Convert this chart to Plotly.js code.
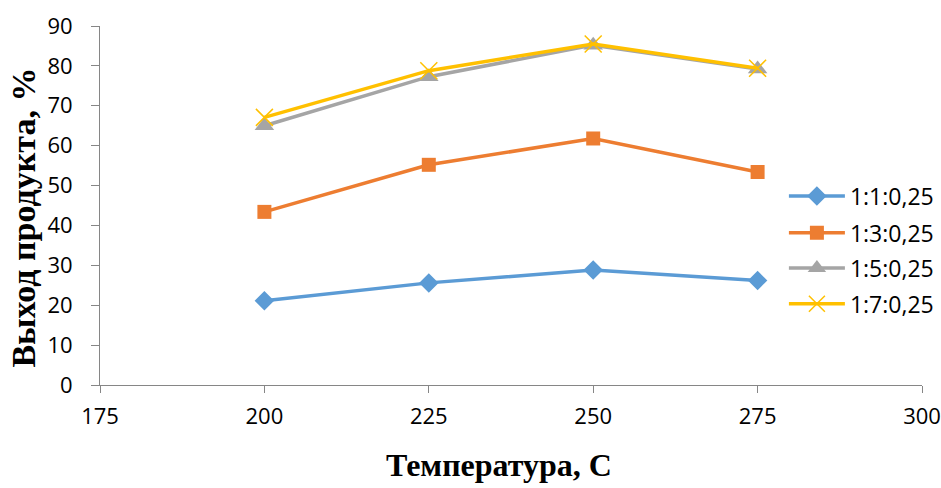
<!DOCTYPE html>
<html><head><meta charset="utf-8">
<script src="https://cdn.plot.ly/plotly-3.0.1.min.js"></script>
<style>html,body{margin:0;padding:0;background:#fff}#chart{width:941px;height:488px}</style>
</head><body><div id="chart"></div>
<script>
var temps = [200, 225, 250, 275];
var s1 = [21.1, 25.6, 28.8, 26.2];
var s2 = [43.4, 55.2, 61.8, 53.4];
var s3 = [65.0, 77.3, 85.2, 79.2];
var s4 = [67.1, 78.8, 85.5, 79.4];
var names = ['1:1:0,25', '1:3:0,25', '1:5:0,25', '1:7:0,25'];
var xTicks = [175, 200, 225, 250, 275, 300];
var yTicks = [0, 10, 20, 30, 40, 50, 60, 70, 80, 90];
var xTitle = 'Температура, С';
var yTitle = 'Выход продукта, %';

var colors = ['#5B9BD5', '#ED7D31', '#A5A5A5', '#FFC000'];
var symbols = ['diamond', 'square', 'triangle-up', 'x-thin-open'];
var sizes = [15, 14, 17, 17];
var series = [s1, s2, s3, s4];
var legendIds = ['legend', 'legend2', 'legend3', 'legend4'];
var legendY = [0.526, 0.424, 0.326, 0.226];
var traces = series.map(function (s, i) {
  return {
    x: temps, y: s, name: names[i], type: 'scatter', mode: 'lines+markers',
    legend: legendIds[i],
    line: {color: colors[i], width: 3.5},
    marker: {symbol: symbols[i], size: sizes[i], color: colors[i],
             line: {color: colors[i], width: i === 3 ? 1.5 : 0}}
  };
});

var serif = 'Liberation Serif, Times New Roman, serif';
var layout = {
  width: 941, height: 488,
  margin: {l: 100, r: 19, t: 26, b: 103, autoexpand: false},
  paper_bgcolor: '#fff', plot_bgcolor: '#fff',
  font: {family: 'Open Sans, sans-serif', size: 22, color: '#000'},
  showlegend: true,
  xaxis: {
    range: [175, 300], tickvals: xTicks, ticktext: xTicks.map(String),
    showgrid: false, zeroline: false, showline: true, linecolor: '#868686', linewidth: 1,
    ticks: 'outside', ticklen: 7, tickcolor: '#868686', ticklabelstandoff: 5,
    tickfont: {size: 22}, fixedrange: true, automargin: false
  },
  yaxis: {
    range: [0, 90], tickvals: yTicks, ticktext: yTicks.map(String),
    showgrid: false, zeroline: false, showline: true, linecolor: '#868686', linewidth: 1,
    ticks: 'outside', ticklen: 8, tickcolor: '#868686', ticklabelstandoff: 14,
    tickfont: {size: 22}, fixedrange: true, automargin: false
  },
  annotations: [
    {text: xTitle, xref: 'paper', yref: 'paper', x: 0.485, y: -0.222,
     xanchor: 'center', yanchor: 'middle', showarrow: false,
     font: {family: serif, size: 32, color: '#000', weight: 'bold'}},
    {text: yTitle, xref: 'paper', yref: 'paper', x: -0.093, y: 0.465, textangle: -90,
     xanchor: 'center', yanchor: 'middle', showarrow: false,
     font: {family: serif, size: 34, color: '#000', weight: 'bold'}}
  ]
};
legendIds.forEach(function (id, i) {
  layout[id] = {x: 0.832, y: legendY[i], xanchor: 'left', yanchor: 'middle',
    font: {family: 'Open Sans, sans-serif', size: 23, color: '#000'},
    itemwidth: 56, bgcolor: 'rgba(0,0,0,0)', borderwidth: 0};
});
Plotly.newPlot('chart', traces, layout, {displayModeBar: false, staticPlot: true});
</script></body></html>
